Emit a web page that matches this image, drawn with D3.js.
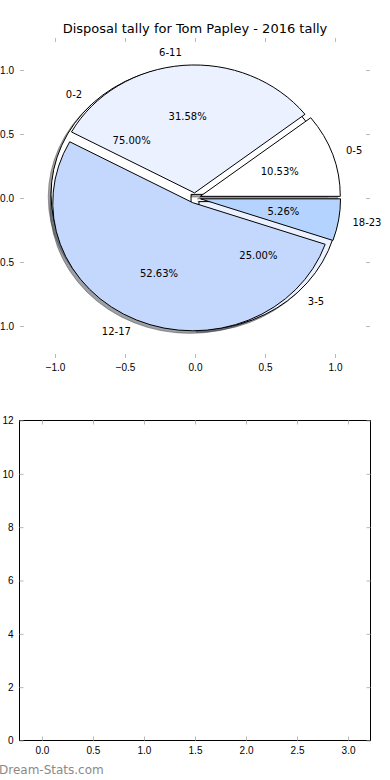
<!DOCTYPE html>
<html>
<head>
<meta charset="utf-8">
<script src="https://cdn.jsdelivr.net/npm/d3@7"></script>
<style>
  body { margin: 0; background: #fff; }
  svg { display: block; font-family: "DejaVu Sans", sans-serif; }
</style>
</head>
<body>
<svg id="svg" width="390" height="780"></svg>
<script>
// disposal counts
const hourBins = ['0-5', '6-11', '12-17', '18-23'];
const hourCounts = [2, 6, 10, 1];
const quarterBins = ['0-2', '3-5'];
const quarterCounts = [3, 1];
const sliceColors = ['#ffffff', '#ebf1fe', '#c4d8fd', '#b4d3ff'];

const pieTicks = [-1, -0.5, 0, 0.5, 1];
const barXTicks = [0, 0.5, 1, 1.5, 2, 2.5, 3];
const barYTicks = [0, 2, 4, 6, 8, 10, 12];

const svg = d3.select('#svg');
const explode = 0.04;
const shadowOff = 0.02;
const tickGrey = '#b8b8b8';

// ---- top panel: pie ----
let xPie = d3.scaleLinear().domain([-1.25, 1.25]).range([20, 370]);
let yPie = d3.scaleLinear().domain([-1.25, 1.25]).range([358, 38]);
let kx = xPie(1) - xPie(0);
let ky = yPie(0) - yPie(1);

svg.append('text')
    .attr('x', 195).attr('y', 33)
    .attr('text-anchor', 'middle')
    .style('font-size', '13px')
    .text('Disposal tally for Tom Papley - 2016 tally');

function pieAxes() {
    let g = svg.append('g');
    let axB = d3.axisBottom(xPie).tickValues(pieTicks).tickFormat(d3.format('.1f'))
        .tickSizeInner(-4).tickSizeOuter(0).tickPadding(6);
    let axT = d3.axisTop(xPie).tickValues(pieTicks).tickFormat('')
        .tickSizeInner(-4).tickSizeOuter(0);
    let axL = d3.axisLeft(yPie).tickValues(pieTicks).tickFormat(d3.format('.1f'))
        .tickSizeInner(-4).tickSizeOuter(0).tickPadding(6);
    let axR = d3.axisRight(yPie).tickValues(pieTicks).tickFormat('')
        .tickSizeInner(-4).tickSizeOuter(0);
    g.append('g').attr('transform', 'translate(0,358)').call(axB);
    g.append('g').attr('transform', 'translate(0,38)').call(axT);
    g.append('g').attr('transform', 'translate(20,0)').call(axL);
    g.append('g').attr('transform', 'translate(370,0)').call(axR);
    g.selectAll('.domain').remove();
    g.selectAll('.tick line').attr('stroke', tickGrey);
    g.selectAll('.tick text').style('font-size', '10px').attr('fill', '#000');
}
pieAxes();

// matplotlib starts at 3 o'clock and runs counter-clockwise
let pieGen = d3.pie().sort(null).startAngle(Math.PI / 2).endAngle(Math.PI / 2 - 2 * Math.PI);
let arcGen = d3.arc().innerRadius(0).outerRadius(1);

function buildWedges(cats, counts) {
    let total = d3.sum(counts);
    return pieGen(counts).map((d, i) => {
        let mid = Math.PI / 2 - (d.startAngle + d.endAngle) / 2;
        return {
            arc: d,
            label: cats[i],
            pct: counts[i] / total * 100,
            color: sliceColors[i],
            cx: explode * Math.cos(mid),
            cy: explode * Math.sin(mid),
            mid: mid
        };
    });
}

let wedgesB = buildWedges(quarterBins, quarterCounts);
let wedgesA = buildWedges(hourBins, hourCounts);
let allWedges = wedgesB.concat(wedgesA);

function shadeOf(c) {
    let rgb = d3.rgb(c);
    return d3.rgb(rgb.r * 0.3, rgb.g * 0.3, rgb.b * 0.3, 0.5).toString();
}

// shadows sit under every wedge
svg.append('g').selectAll('path')
    .data(allWedges)
    .join('path')
    .attr('transform', w => `translate(${xPie(w.cx - shadowOff)},${yPie(w.cy - shadowOff)}) scale(${kx},${ky})`)
    .attr('d', w => arcGen(w.arc))
    .attr('fill', w => shadeOf(w.color))
    .attr('stroke', w => shadeOf(w.color))
    .attr('stroke-width', 1)
    .attr('vector-effect', 'non-scaling-stroke');

svg.append('g').selectAll('path')
    .data(allWedges)
    .join('path')
    .attr('transform', w => `translate(${xPie(w.cx)},${yPie(w.cy)}) scale(${kx},${ky})`)
    .attr('d', w => arcGen(w.arc))
    .attr('fill', w => w.color)
    .attr('stroke', '#000')
    .attr('stroke-width', 1)
    .attr('stroke-linejoin', 'miter')
    .attr('vector-effect', 'non-scaling-stroke');

let txt = svg.append('g').style('font-size', '10px');
allWedges.forEach(w => {
    let lx = w.cx + 1.1 * Math.cos(w.mid);
    let ly = w.cy + 1.1 * Math.sin(w.mid);
    txt.append('text')
        .attr('x', xPie(lx)).attr('y', yPie(ly))
        .attr('dy', '0.35em')
        .attr('text-anchor', lx > 0 ? 'start' : 'end')
        .text(w.label);
    let px = w.cx + 0.6 * Math.cos(w.mid);
    let py = w.cy + 0.6 * Math.sin(w.mid);
    txt.append('text')
        .attr('x', xPie(px)).attr('y', yPie(py))
        .attr('dy', '0.35em')
        .attr('text-anchor', 'middle')
        .text(d3.format('.2f')(w.pct) + '%');
});

// ---- bottom panel: empty axes ----
let xBar = d3.scaleLinear().domain([-0.22, 3.22]).range([19.5, 370.5]);
let yBar = d3.scaleLinear().domain([0, 12]).range([740.5, 420.5]);

let gb = svg.append('g');
gb.append('rect')
    .attr('x', xBar.range()[0]).attr('y', yBar.range()[1])
    .attr('width', xBar.range()[1] - xBar.range()[0])
    .attr('height', yBar.range()[0] - yBar.range()[1])
    .attr('fill', 'none').attr('stroke', '#000').attr('stroke-width', 1);

let fmtX = d3.format('.1f');
gb.append('g').attr('transform', `translate(0,${yBar.range()[0]})`)
    .call(d3.axisBottom(xBar).tickValues(barXTicks).tickFormat(fmtX).tickSizeInner(-4).tickSizeOuter(0).tickPadding(6));
gb.append('g').attr('transform', `translate(0,${yBar.range()[1]})`)
    .call(d3.axisTop(xBar).tickValues(barXTicks).tickFormat('').tickSizeInner(-4).tickSizeOuter(0));
gb.append('g').attr('transform', `translate(${xBar.range()[0]},0)`)
    .call(d3.axisLeft(yBar).tickValues(barYTicks).tickFormat(d3.format('d')).tickSizeInner(-4).tickSizeOuter(0).tickPadding(6));
gb.append('g').attr('transform', `translate(${xBar.range()[1]},0)`)
    .call(d3.axisRight(yBar).tickValues(barYTicks).tickFormat('').tickSizeInner(-4).tickSizeOuter(0));
gb.selectAll('.domain').remove();
gb.selectAll('.tick line').attr('stroke', tickGrey);
gb.selectAll('.tick text').style('font-size', '10px').attr('fill', '#000');

// watermark
svg.append('text')
    .attr('x', -1).attr('y', 774)
    .style('font-size', '12px')
    .attr('fill', '#8a8a8a')
    .text('Dream-Stats.com');
</script>
</body>
</html>
